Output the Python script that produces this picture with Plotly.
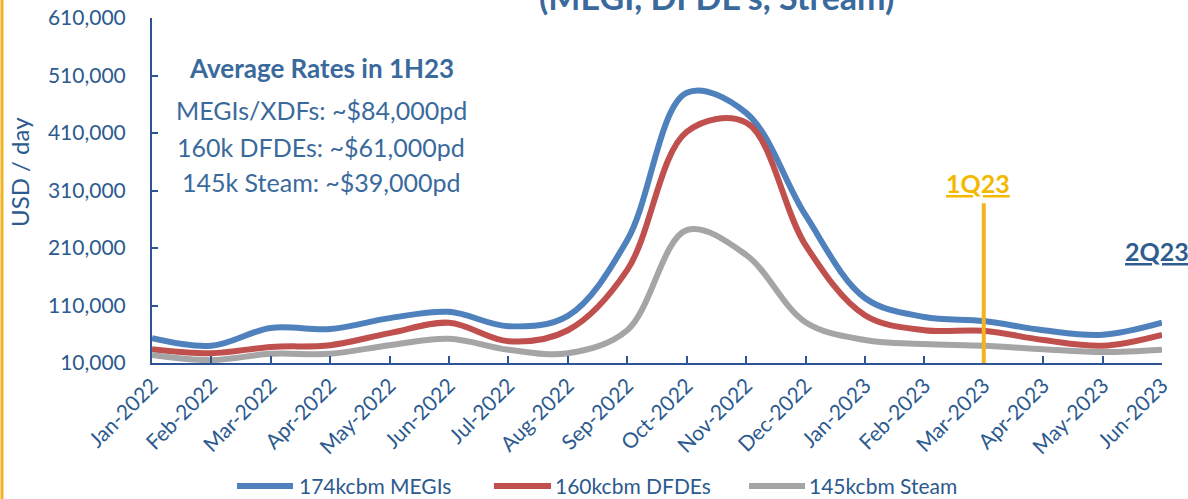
import plotly.graph_objects as go

months = ["Jan-2022", "Feb-2022", "Mar-2022", "Apr-2022", "May-2022", "Jun-2022",
          "Jul-2022", "Aug-2022", "Sep-2022", "Oct-2022", "Nov-2022", "Dec-2022",
          "Jan-2023", "Feb-2023", "Mar-2023", "Apr-2023", "May-2023", "Jun-2023"]

megi = [53000, 40000, 71000, 69000, 88000, 99000, 74000, 92000, 224000, 480000,
        445000, 267000, 123000, 90000, 83000, 67000, 59000, 80000]
dfde = [34000, 27000, 38000, 41000, 62000, 80000, 48000, 67000, 172000, 412000,
        428000, 215000, 93000, 67000, 66000, 50000, 40000, 59000]
steam = [24000, 15000, 26000, 26000, 41000, 52000, 33000, 27000, 67000, 241000,
         198000, 81000, 50000, 43000, 40000, 34000, 29000, 33000]

series_names = ["174kcbm MEGIs", "160kcbm DFDEs", "145kcbm Steam"]
series_colors = ["#4F81BD", "#C0504D", "#A5A5A5"]

q1_month = "Mar-2023"
q1_top = 288000

TXT = "#2C5A8E"
AX = "#2F5496"
FONT = "Lato"

L, R, T, B = 152, 26, 18, 136
W, H = 1188, 499
pw, ph = W - L - R, H - T - B


def px(x):
    return (x - L) / pw


def py(y):
    return 1 - (y - T) / ph


fig = go.Figure()
for name, vals, col in zip(series_names, [megi, dfde, steam], series_colors):
    fig.add_trace(go.Scatter(x=months, y=vals, name=name, mode="lines", showlegend=False,
                             line=dict(color=col, width=6, shape="spline", smoothing=1.0)))

fig.update_layout(
    width=W, height=H,
    margin=dict(l=L, r=R, t=T, b=B, autoexpand=False),
    paper_bgcolor="white", plot_bgcolor="white",
    font=dict(family=FONT, color=TXT, size=21),
    xaxis=dict(type="category", range=[0, 17], showgrid=False, showline=True,
               linecolor=AX, linewidth=2, ticks="inside", ticklen=7, tickcolor=AX,
               tickwidth=2, tickangle=-45, tickfont=dict(size=21, color=TXT),
               automargin=False),
    yaxis=dict(range=[10000, 610000], tick0=10000, dtick=100000, tickformat=",d",
               showgrid=False, showline=True, linecolor=AX, linewidth=2,
               ticks="inside", ticklen=6, tickcolor=AX, tickwidth=2,
               ticklabelstandoff=20,
               tickfont=dict(size=21, color=TXT), automargin=False),
)

# 1Q23 marker line
fig.add_shape(type="line", xref="x", yref="y", x0=q1_month, x1=q1_month,
              y0=10000, y1=q1_top, line=dict(color="#F4B120", width=4))

# left orange border
fig.add_shape(type="line", xref="paper", yref="paper", x0=px(2), x1=px(2),
              y0=py(H + 5), y1=py(-5), line=dict(color="#F5B324", width=3))

# custom legend
leg = [(237, 293, 297), (494, 551, 553), (749, 805, 807)]
for (x0, x1, xt), name, col in zip(leg, series_names, series_colors):
    fig.add_shape(type="line", xref="paper", yref="paper", x0=px(x0), x1=px(x1),
                  y0=py(486), y1=py(486), line=dict(color=col, width=6))
    fig.add_annotation(text=name, xref="paper", yref="paper", x=px(xt), y=py(485),
                       xanchor="left", yanchor="middle", showarrow=False,
                       font=dict(family=FONT, size=21, color=TXT))

# y axis title
fig.add_annotation(text="USD / day", xref="paper", yref="paper", x=px(20), y=py(172),
                   xanchor="center", yanchor="middle", showarrow=False, textangle=-90,
                   font=dict(family=FONT, size=24, color=TXT))

annots = [
    dict(text="<b>(MEGI, DFDE's, Stream)</b>", x=716, y=-3, size=34, color="#3A6A9C"),
    dict(text="<b>Average Rates in 1H23</b>", x=321, y=68, size=26, color="#3A6A9C"),
    dict(text="MEGIs/XDFs: ~$84,000pd", x=321, y=110, size=25, color="#3A6A9C"),
    dict(text="160k DFDEs: ~$61,000pd", x=321, y=147, size=25, color="#3A6A9C"),
    dict(text="145k Steam: ~$39,000pd", x=321, y=182, size=25, color="#3A6A9C"),
    dict(text="<b><u>1Q23</u></b>", x=978, y=183, size=25, color="#F5B800"),
    dict(text="<b><u>2Q23</u></b>", x=1157, y=251, size=25, color="#2F5D8F"),
]
for a in annots:
    fig.add_annotation(text=a["text"], xref="paper", yref="paper",
                       x=px(a["x"]), y=py(a["y"]),
                       xanchor="center", yanchor="middle", showarrow=False,
                       font=dict(family=FONT, size=a["size"], color=a["color"]))

fig.write_html("out.html", config={"displayModeBar": False},
               post_script="document.body.style.margin='0';document.body.style.padding='0';")
